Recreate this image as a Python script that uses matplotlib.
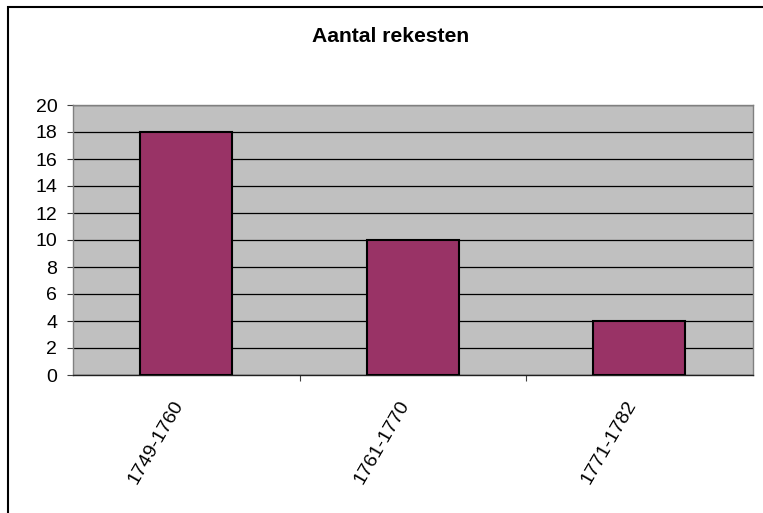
import matplotlib.pyplot as plt
from matplotlib.patches import Rectangle
from matplotlib.transforms import ScaledTranslation

categories = ['1749-1760', '1761-1770', '1771-1782']
values = [18, 10, 4]
title = 'Aantal rekesten'

plt.rcParams['font.family'] = ['Liberation Sans', 'DejaVu Sans']

W, H = 763, 513
fig = plt.figure(figsize=(W / 100, H / 100), dpi=100)

# outer chart frame (only left and top edges fall inside the image)
fig.patches.append(Rectangle((8 / W, -0.1), 1.2, 1 - 7 / H + 0.1,
                             transform=fig.transFigure, fill=False,
                             edgecolor='black', linewidth=1.5))

ax = fig.add_axes([73 / W, 1 - 375 / H, (752.5 - 73) / W, (375 - 105) / H])
ax.set_facecolor('#C0C0C0')

x = range(len(categories))
ax.bar(x, values, width=0.406, color='#993366', edgecolor='black',
       linewidth=1.5, zorder=3)

ax.set_xlim(-0.5, len(categories) - 0.5)
ax.set_ylim(0, 20)
ax.set_yticks(range(0, 21, 2))
ax.yaxis.grid(True, color='black', linewidth=0.9, zorder=1)
ax.set_axisbelow(True)

ax.set_xticks([i + 0.5 for i in range(len(categories) - 1)])
ax.set_xticklabels([])
ax.set_xticks(list(x), minor=True)
labels = ax.set_xticklabels(categories, minor=True, rotation=60, ha='right',
                            va='top', fontsize=14)
shift = ScaledTranslation(3 / 100, 0, fig.dpi_scale_trans)
for lab in labels:
    lab.set_transform(lab.get_transform() + shift)
ax.tick_params(axis='x', which='minor', length=0, pad=16)
ax.tick_params(axis='x', which='major', length=4.3, color='#404040',
               direction='out')
ax.tick_params(axis='y', length=4.3, color='#404040', labelsize=14, pad=7)

for s in ['left', 'top', 'right']:
    ax.spines[s].set_color('#808080')
    ax.spines[s].set_linewidth(1.0)
ax.spines['bottom'].set_color('#202020')
ax.spines['bottom'].set_linewidth(1.0)

fig.text(391 / W, 1 - 37 / H, title, ha='center', va='center',
         fontsize=15.2, fontweight='bold')

fig.savefig('out.png', dpi=100)
